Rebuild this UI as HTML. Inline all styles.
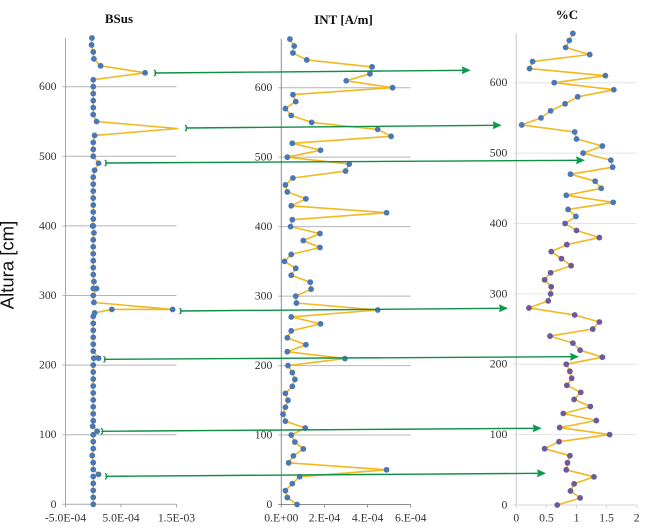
<!DOCTYPE html>
<html>
<head>
<meta charset="utf-8">
<style>
html,body{margin:0;padding:0;background:#fff;width:650px;height:530px;overflow:hidden}
svg{display:block;filter:blur(0.35px)}
text{font-family:"Liberation Serif",serif;fill:#333;font-size:11.7px}
</style>
</head>
<body>
<svg id="chart" width="650" height="530" viewBox="0 0 650 530" xmlns="http://www.w3.org/2000/svg">
<text transform="translate(13.5,265) rotate(-90)" text-anchor="middle" style="font-family:'Liberation Sans',sans-serif;font-size:18.5px;fill:#111">Altura [cm]</text>
<text x="119" y="23" text-anchor="middle" style="font-weight:bold;font-size:13px;fill:#111">BSus</text>
<text x="343.5" y="24" text-anchor="middle" style="font-weight:bold;font-size:13px;fill:#111">INT [A/m]</text>
<text x="567" y="19" text-anchor="middle" style="font-weight:bold;font-size:13px;fill:#111">%C</text>
<g id="panels"></g>
<g id="arrows"></g>
</svg>
<script>
var depthTicks = [0, 100, 200, 300, 400, 500, 600];

var bsusXTicks = [-5e-4, 5e-4, 1.5e-3];
var bsusXLabels = ['-5.0E-04', '5.0E-04', '1.5E-03'];
var bsusDepths = [670,660,650,640,630,620,610,600,590,580,570,560,550,540,530,520,510,500,490,480,470,460,450,440,430,420,410,400,400,390,380,370,360,350,340,330,320,310,310,300,290,280,280,275,270,260,250,240,230,220,210,210,200,190,180,170,160,150,140,130,120,112,105,100,90,80,70,60,50,43,40,30,20,10,0];
var bsusValues = [-2.4e-5,-3e-5,0,1.2e-5,1.32e-4,9.34e-4,0,0,0,0,0,0,6e-5,1.52e-3,2.4e-5,0,0,0,9.6e-5,2.4e-5,0,0,0,0,0,0,0,-1.2e-5,0,1.2e-5,0,0,0,0,0,0,1.2e-5,0,6e-5,0,1.2e-5,1.43e-3,3.35e-4,2.4e-5,0,0,0,0,0,0,9.6e-5,1e-5,0,0,0,0,0,0,0,0,0,-1e-5,7e-5,0,0,0,-1.8e-5,0,0,9.6e-5,0,0,0,0,0];
var bsusClippedDepths = [540];

var intXTicks = [0, 2e-4, 4e-4, 6e-4];
var intXLabels = ['0.E+00', '2.E-04', '4.E-04', '6.E-04'];
var intDepths = [670,660,650,640,630,620,610,600,590,580,570,560,550,540,530,520,510,500,490,480,470,460,450,440,430,420,410,400,390,380,370,360,350,340,330,320,310,300,290,280,270,260,250,240,230,220,210,200,190,180,170,160,150,140,130,120,110,100,90,80,70,60,50,40,30,20,10,0];
var intValues = [0.40e-4,0.60e-4,0.54e-4,1.18e-4,4.21e-4,4.11e-4,3.01e-4,5.16e-4,0.54e-4,0.67e-4,0.19e-4,0.46e-4,1.41e-4,4.47e-4,5.09e-4,0.51e-4,1.82e-4,0.28e-4,3.15e-4,2.98e-4,0.54e-4,0.19e-4,0.28e-4,1.14e-4,0.46e-4,4.88e-4,0.51e-4,0.43e-4,1.79e-4,1.02e-4,1.79e-4,0.46e-4,0.15e-4,0.67e-4,0.46e-4,1.34e-4,1.38e-4,0.67e-4,0.70e-4,4.47e-4,0.46e-4,1.82e-4,0.46e-4,0.28e-4,1.14e-4,0.28e-4,2.95e-4,0.31e-4,0.51e-4,0.63e-4,0.51e-4,0.19e-4,0.31e-4,0.19e-4,0.08e-4,0.19e-4,1.11e-4,0.46e-4,0.63e-4,1.02e-4,0.56e-4,0.34e-4,4.88e-4,0.85e-4,0.51e-4,0.19e-4,0.28e-4,0.73e-4];

var carbonXTicks = [0, 0.5, 1, 1.5, 2];
var carbonXLabels = ['0', '0.5', '1', '1.5', '2'];
var carbonDepths = [670,660,650,640,630,620,610,600,590,580,570,560,550,540,530,520,510,500,490,480,470,460,450,440,430,420,410,400,390,380,370,360,350,340,330,320,310,300,290,280,270,260,250,240,230,220,210,200,190,180,170,160,150,140,130,120,110,100,90,80,70,60,50,40,30,20,10,0];
var carbonValues = [0.94,0.88,0.82,1.22,0.27,0.22,1.48,0.63,1.62,1.02,0.81,0.57,0.41,0.09,0.97,1.0,1.43,1.11,1.57,1.6,0.90,1.31,1.41,0.83,1.61,0.86,0.99,0.81,1.0,1.38,0.84,0.58,0.75,0.91,0.57,0.47,0.58,0.57,0.53,0.21,0.97,1.38,1.27,0.56,0.94,1.06,1.43,0.83,0.89,0.92,0.84,1.07,0.96,1.23,0.78,1.33,0.72,1.55,0.71,0.47,0.89,0.85,0.83,1.29,0.96,0.90,1.06,0.68];

var NS = 'http://www.w3.org/2000/svg';
var panelsRoot = document.getElementById('panels');

function el(tag, parent, attrs) {
  var e = document.createElementNS(NS, tag);
  for (var k in attrs) e.setAttribute(k, attrs[k]);
  parent.appendChild(e);
  return e;
}
function linear(d0, d1, r0, r1) {
  return function (v) { return r0 + (v - d0) / (d1 - d0) * (r1 - r0); };
}

function drawPanel(cfg) {
  var g = el('g', panelsRoot, {});
  
  
  var x = linear(cfg.xTicks[0], cfg.xTicks[cfg.xTicks.length - 1], cfg.x0, cfg.x1);
  var y = linear(0, 600, cfg.y0, cfg.y600);
  var yTop = y(670);

  depthTicks.forEach(function (t) {
    if (t > 0) {
      var grid = el('line', g, {x1: cfg.x0 - 3, x2: cfg.x1, y1: y(t), y2: y(t), stroke: cfg.gridColor, 'stroke-width': cfg.gridWidth});
      
      
    }
    var lab = el('text', g, {x: cfg.x0 - 9, y: y(t) + 3.5, 'text-anchor': 'end'});
    lab.textContent = t;
    
    
  });

  var yAxis = el('line', g, {x1: cfg.x0, x2: cfg.x0, y1: yTop, y2: cfg.y0, stroke: cfg.axisColor, 'stroke-width': cfg.axisWidth});
  
  
  var xAxis = el('line', g, {x1: cfg.x0 - 3, x2: cfg.x1, y1: cfg.y0, y2: cfg.y0, stroke: cfg.axisColor, 'stroke-width': 1});
  
  

  cfg.xTicks.forEach(function (t, i) {
    var tick = el('line', g, {x1: x(t), x2: x(t), y1: cfg.y0, y2: cfg.y0 + 3, stroke: cfg.axisColor, 'stroke-width': 1});
    
    
    var lab = el('text', g, {x: x(t), y: 521.5, 'text-anchor': 'middle'});
    lab.textContent = cfg.xLabels[i];
    
    
  });

  var pts = cfg.values.map(function (v, i) { return x(v).toFixed(1) + ',' + y(cfg.depths[i]).toFixed(1); }).join(' ');
  var line = el('polyline', g, {points: pts, fill: 'none', stroke: '#f2b820', 'stroke-width': 1.6, 'stroke-linejoin': 'round'});
  
  

  cfg.values.forEach(function (v, i) {
    var d = cfg.depths[i];
    if (cfg.noMarkerDepths && cfg.noMarkerDepths.indexOf(d) !== -1) return;
    var c = el('circle', g, {cx: x(v), cy: y(d), r: 2.9, fill: (cfg.purpleBelow !== undefined && d <= cfg.purpleBelow) ? '#6c5a9c' : '#4a78b4'});
    
    
  });
}

drawPanel({name: 'bsus', x0: 65.5, x1: 176.5, y0: 504.3, y600: 86.7, xTicks: bsusXTicks, xLabels: bsusXLabels, depths: bsusDepths, values: bsusValues, noMarkerDepths: bsusClippedDepths, gridColor: '#b4b4b4', gridWidth: 1, axisColor: '#a8a8a8', axisWidth: 1});
drawPanel({name: 'int', x0: 281.3, x1: 410.7, y0: 504.5, y600: 87.7, xTicks: intXTicks, xLabels: intXLabels, depths: intDepths, values: intValues, gridColor: '#b4b4b4', gridWidth: 1, axisColor: '#8c8c8c', axisWidth: 1});
drawPanel({name: 'carbon', x0: 516.3, x1: 636.7, y0: 505, y600: 82.7, xTicks: carbonXTicks, xLabels: carbonXLabels, depths: carbonDepths, values: carbonValues, gridColor: '#e4e4e4', gridWidth: 1, axisColor: '#d4d4d4', axisWidth: 1.4, purpleBelow: 400});

var arrowsRoot = document.getElementById('arrows');
var arrowStarts = [155, 186, 105.7, 180.5, 104.5, 102, 106];
var arrowStartY = [73, 128, 163, 311, 359.3, 431.3, 476.3];
var arrowEnds = [470.7, 501.7, 585, 508, 579, 541.7, 546];
var arrowEndY = [70.3, 125.3, 160.3, 308.3, 356.7, 428.3, 473.3];

arrowStarts.forEach(function (sx, i) {
  var sy = arrowStartY[i], ex = arrowEnds[i], ey = arrowEndY[i];
  var g = el('g', arrowsRoot, {});
  
  
  el('line', g, {x1: sx, y1: sy, x2: ex - 7, y2: ey, stroke: '#0d8f45', 'stroke-width': 1.4});
  el('path', g, {d: 'M' + (sx - 1) + ' ' + (sy - 3) + ' Q' + (sx + 1.5) + ' ' + (sy - 1.5) + ' ' + sx + ' ' + sy + ' Q' + (sx + 1.5) + ' ' + (sy + 1.5) + ' ' + (sx - 1) + ' ' + (sy + 3), fill: 'none', stroke: '#0d8f45', 'stroke-width': 1.3});
  el('polygon', g, {points: ex + ',' + ey + ' ' + (ex - 9) + ',' + (ey - 4) + ' ' + (ex - 8) + ',' + ey + ' ' + (ex - 9) + ',' + (ey + 4), fill: '#0a9a4c'});
});
</script>
</body>
</html>
